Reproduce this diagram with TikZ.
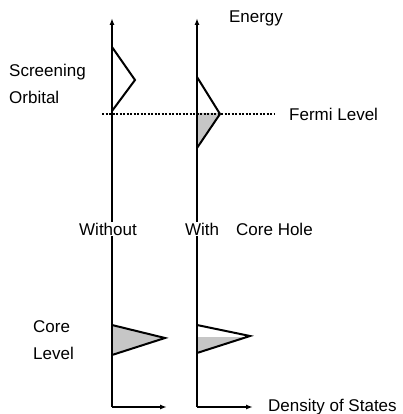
\documentclass[tikz,border=0pt]{standalone}
\usepackage{fontspec}
\setmainfont{Liberation Sans}
\usetikzlibrary{arrows.meta}
\tikzset{
  lbl/.style={inner sep=1pt, font=\fontsize{17}{20}\selectfont},
  axis/.style={line width=2pt},
  axarrow/.style={line width=2pt, -{Latex[length=7pt,width=5pt]}},
  dos/.style={line width=2pt, line join=miter},
  shade/.style={fill=gray!45},
  fermi/.style={line width=1.4pt, dash pattern=on 2pt off 1.5pt}
}
\begin{document}
\begin{tikzpicture}[x=1pt,y=-1pt]
\useasboundingbox (0,0) rectangle (403,414);
% coordinates
\coordinate (Lo) at (112,407);
\coordinate (Ltop) at (112,18);
\coordinate (Lx) at (167,407);
\coordinate (Ro) at (197,407);
\coordinate (Rtop) at (197,18);
\coordinate (Rx) at (253,407);
% labels
\node[lbl] (energy) at (256,18) {Energy};
\node[lbl, anchor=west] (screen) at (8,72) {Screening};
\node[lbl, anchor=west] (orbital) at (8,97) {Orbital};
\node[lbl, anchor=west] (fermilbl) at (288,114) {Fermi Level};
\node[lbl] (without) at (108,229) {Without};
\node[lbl] (with) at (202,229) {With};
\node[lbl, anchor=west] (corehole) at (235,229) {Core Hole};
\node[lbl, anchor=west] (core) at (32,327) {Core};
\node[lbl, anchor=west] (level) at (32,353) {Level};
\node[lbl, anchor=west] (dos) at (267,407) {Density of States};
% shaded areas
\fill[shade] (197,113) -- (220,113) -- (197,148) -- cycle;
\fill[shade] (112,325) -- (165,338) -- (112,355) -- cycle;
\fill[shade] (197,337) -- (249,337) -- (197,353) -- cycle;
% axes
\draw[axis] (Lo) -- (Lo |- without.south);
\draw[axarrow] (Lo |- without.north) -- (Ltop);
\draw[axis] (Ro) -- (Ro |- with.south);
\draw[axarrow] (Ro |- with.north) -- (Rtop);
\draw[axarrow] (Lo) -- (Lx);
\draw[axarrow] (Ro) -- (Rx);
% fermi level
\coordinate (fstart) at (102,114);
\draw[fermi] (fstart) -- (fermilbl.west -| 275,0);
% DOS curves
\draw[dos] (112,47) -- (135,80) -- (112,111);
\draw[dos] (197,77) -- (220,114) -- (197,148);
\draw[dos] (112,325) -- (165,338) -- (112,355);
\draw[dos] (197,325) -- (250,336) -- (197,353);
\end{tikzpicture}
\end{document}
